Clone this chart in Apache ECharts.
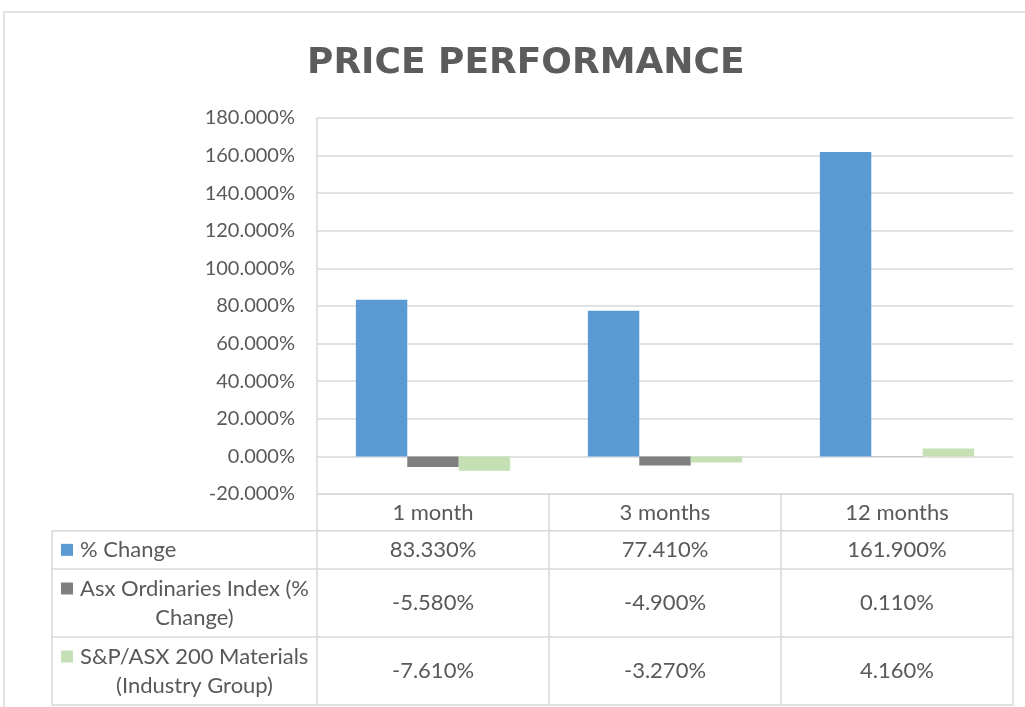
<!DOCTYPE html>
<html>
<head>
<meta charset="utf-8">
<script src="https://cdn.jsdelivr.net/npm/echarts@6/dist/echarts.min.js"></script>
<style>
html,body{margin:0;padding:0;background:#fff;}
#chart{width:1025px;height:707px;}
</style>
</head>
<body>
<div id="chart"></div>
<script>
// ---- data ----
const categories = ['1 month', '3 months', '12 months'];
const pctChange = [83.33, 77.41, 161.9];
const asxOrdinaries = [-5.58, -4.9, 0.11];
const spMaterials = [-7.61, -3.27, 4.16];
const seriesNames = ['% Change', 'Asx Ordinaries Index (% Change)', 'S&P/ASX 200 Materials (Industry Group)'];
const seriesLabelLines = [['% Change'], ['Asx Ordinaries Index (%', 'Change)'], ['S&P/ASX 200 Materials', '(Industry Group)']];
const yMin = -20, yMax = 180, yStep = 20;

// ---- style ----
const colors = ['#5B9BD5', '#7F7F7F', '#C5E0B4'];
const textColor = '#595959';
const lineColor = '#D9D9D9';
const font = 'Lato, "Open Sans", sans-serif';
const tableFontSize = 22;
const fmt = v => v.toFixed(3) + '%';

const chart = echarts.init(document.getElementById('chart'), null, {renderer: 'canvas'});
const allSeries = [pctChange, asxOrdinaries, spMaterials];

chart.setOption({
  animation: false,
  backgroundColor: '#fff',
  title: {
    text: 'PRICE PERFORMANCE',
    left: 302, top: 41,
    textStyle: {fontFamily: '"DejaVu Sans"', fontWeight: 'bold', fontSize: 36, color: '#5c5c5c'}
  },
  grid: {left: 317, right: 12, top: 118, bottom: 213, containLabel: false},
  xAxis: {
    type: 'category', data: categories,
    axisLine: {show: false}, axisTick: {show: false},
    axisLabel: {color: textColor, fontFamily: font, fontSize: tableFontSize, margin: 8}
  },
  yAxis: {
    type: 'value', min: yMin, max: yMax, interval: yStep,
    axisLine: {show: true, lineStyle: {color: lineColor, width: 1.5}},
    axisTick: {show: false},
    axisLabel: {color: textColor, fontFamily: font, fontSize: 20, margin: 22, formatter: fmt},
    splitLine: {lineStyle: {color: lineColor, width: 1.5}}
  },
  series: allSeries.map((d, i) => ({
    name: seriesNames[i], type: 'bar', data: d,
    barGap: '0%', barCategoryGap: '33.5%',
    itemStyle: {color: colors[i]}
  }))
});

// ---- data table built from the axes ----
const cx = categories.map((c, i) => chart.convertToPixel({xAxisIndex: 0}, i));
const bw = cx[1] - cx[0];
const xL = cx[0] - bw / 2;
const xR = cx[cx.length - 1] + bw / 2;
const yTop = chart.convertToPixel({yAxisIndex: 0}, yMin);
const tableLeft = 52;
const headerH = 36.7;
const rowH = [38.3, 68, 68];
const rowTops = [];
let acc = yTop + headerH;
rowH.forEach(h => { rowTops.push(acc); acc += h; });
const yBot = acc;

const els = [];
const ln = (x1, y1, x2, y2) => els.push({type: 'line', silent: true,
  shape: {x1, y1, x2, y2}, style: {stroke: lineColor, lineWidth: 1.5}});

// outer chart border
els.push({type: 'rect', silent: true, shape: {x: 4, y: 12, width: 1060, height: 740},
  style: {fill: null, stroke: lineColor, lineWidth: 1.5}});

ln(xL, yTop, xR, yTop);
rowTops.forEach(y => ln(tableLeft, y, xR, y));
ln(tableLeft, yBot, xR, yBot);
ln(tableLeft, rowTops[0], tableLeft, yBot);
for (let i = 0; i <= categories.length; i++) {
  const x = xL + i * bw;
  ln(x, yTop, x, yBot);
}

const txt = (x, y, s, align) => els.push({type: 'text', silent: true, x, y,
  style: {text: s, fill: textColor, font: tableFontSize + 'px ' + font, textAlign: align, textVerticalAlign: 'middle'}});

const labelCenter = (tableLeft + xL) / 2 + 10;
allSeries.forEach((d, r) => {
  const top = rowTops[r], h = rowH[r];
  const mid = top + h / 2;
  const lines = seriesLabelLines[r];
  const lineYs = lines.length === 1 ? [mid] : [mid - 14.5, mid + 14.5];
  els.push({type: 'rect', silent: true, shape: {x: 61, y: lineYs[0] - 6, width: 12, height: 12},
    style: {fill: colors[r]}});
  txt(80, lineYs[0], lines[0], 'left');
  if (lines.length > 1) txt(labelCenter, lineYs[1], lines[1], 'center');
  d.forEach((v, c) => txt(cx[c], mid, fmt(v), 'center'));
});

chart.setOption({graphic: {elements: els}});
</script>
</body>
</html>
